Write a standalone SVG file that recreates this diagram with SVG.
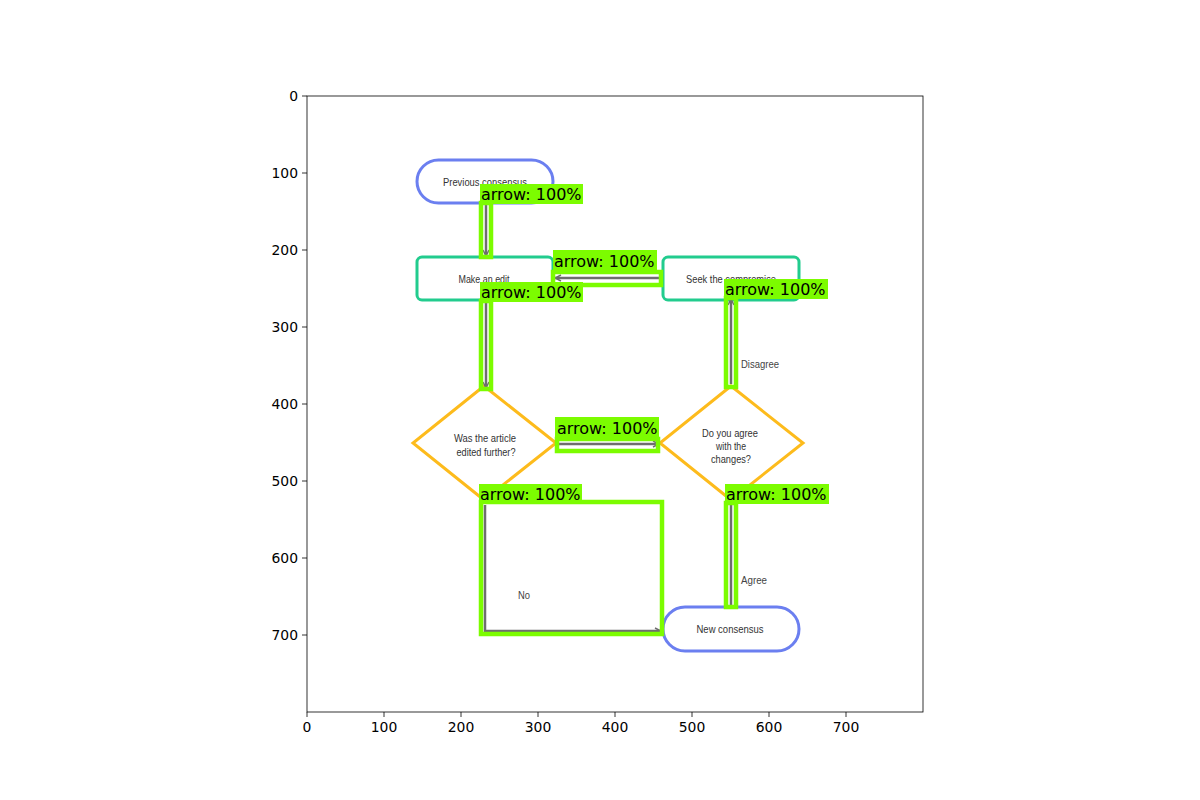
<svg xmlns="http://www.w3.org/2000/svg" width="1200" height="800" viewBox="0 0 1200 800">
<defs>
<style>
.tick{stroke:#000;stroke-width:0.8}
.tl{font-family:"DejaVu Sans",sans-serif;font-size:13.9px;fill:#000}
.pill{fill:#fff;stroke:#6b7ff0;stroke-width:3}
.rbox{fill:#fff;stroke:#22cc8e;stroke-width:3}
.dia{fill:#fff;stroke:#fdbb1c;stroke-width:3}
.nt{font-family:"Liberation Sans",Arial,sans-serif;font-size:11.5px;fill:#333;text-anchor:middle}
.et{font-family:"Liberation Sans",Arial,sans-serif;font-size:11.5px;fill:#444}
.con{fill:none;stroke:#6e6e6e;stroke-width:2.5}
.det{fill:none;stroke:#7cfc00;stroke-width:4.5}
.lb{fill:#7cfc00}
.lt{font-family:"DejaVu Sans",sans-serif;font-size:16px;fill:#000}
</style>
<marker id="ah" viewBox="0 0 10 10" refX="9" refY="5" markerWidth="3" markerHeight="3" orient="auto">
<path d="M1,1 L9,5 L1,9" fill="none" stroke="#6e6e6e" stroke-width="2"/>
</marker>
</defs>
<rect width="1200" height="800" fill="#fff"/>
<rect x="307" y="96" width="616" height="616" fill="#fff"/>

<g id="previous-consensus">
<rect class="pill" x="417" y="160" width="136" height="43" rx="21.5"/>
<text class="nt" x="485" y="186" textLength="84" lengthAdjust="spacingAndGlyphs">Previous consensus</text>
</g>
<g id="make-an-edit">
<rect class="rbox" x="417" y="257" width="136" height="43" rx="5"/>
<text class="nt" x="484" y="283" textLength="51" lengthAdjust="spacingAndGlyphs">Make an edit</text>
</g>
<g id="seek-compromise">
<rect class="rbox" x="663" y="257" width="136" height="43" rx="5"/>
<text class="nt" x="731" y="283" textLength="90" lengthAdjust="spacingAndGlyphs">Seek the compromise</text>
</g>
<g id="was-edited">
<polygon class="dia" points="484,386 556,443 484,500 413,443"/>
<text class="nt" x="485" y="442" textLength="62" lengthAdjust="spacingAndGlyphs">Was the article</text>
<text class="nt" x="486" y="456" textLength="59" lengthAdjust="spacingAndGlyphs">edited further?</text>
</g>
<g id="do-you-agree">
<polygon class="dia" points="731,386 803,443 731,500 660,443"/>
<text class="nt" x="730" y="437" textLength="56" lengthAdjust="spacingAndGlyphs">Do you agree</text>
<text class="nt" x="731" y="450" textLength="30" lengthAdjust="spacingAndGlyphs">with the</text>
<text class="nt" x="731" y="463" textLength="40" lengthAdjust="spacingAndGlyphs">changes?</text>
</g>
<g id="new-consensus">
<rect class="pill" x="663" y="607" width="136" height="44" rx="22"/>
<text class="nt" x="730" y="633" textLength="67" lengthAdjust="spacingAndGlyphs">New consensus</text>
</g>

<g id="connectors">
<line class="con" x1="486" y1="204" x2="486" y2="256" marker-end="url(#ah)"/>
<line class="con" x1="660" y1="278" x2="555" y2="278" marker-end="url(#ah)"/>
<line class="con" x1="486" y1="301" x2="486" y2="388" marker-end="url(#ah)"/>
<line class="con" x1="731" y1="384" x2="731" y2="299" marker-end="url(#ah)"/>
<line class="con" x1="559" y1="444" x2="659" y2="444" marker-end="url(#ah)"/>
<polyline class="con" points="485,505 485,631 661,631" marker-end="url(#ah)"/>
<line class="con" x1="731" y1="505" x2="731" y2="606"/>
<text class="et" x="741" y="368" textLength="38" lengthAdjust="spacingAndGlyphs">Disagree</text>
<text class="et" x="518" y="599" textLength="12" lengthAdjust="spacingAndGlyphs">No</text>
<text class="et" x="741" y="584" textLength="26" lengthAdjust="spacingAndGlyphs">Agree</text>
</g>

<g id="detections">
<rect class="det" x="481" y="203" width="10" height="54"/>
<rect class="lb" x="480" y="184" width="103" height="20"/>
<text class="lt" x="481" y="200">arrow: 100%</text>

<rect class="det" x="553" y="272" width="108" height="13"/>
<rect class="lb" x="553" y="250" width="104" height="21"/>
<text class="lt" x="554" y="267">arrow: 100%</text>

<rect class="det" x="481" y="301" width="10" height="88"/>
<rect class="lb" x="480" y="282" width="103" height="20"/>
<text class="lt" x="481" y="298">arrow: 100%</text>

<rect class="det" x="726" y="298" width="10" height="89"/>
<rect class="lb" x="724" y="279" width="104" height="20"/>
<text class="lt" x="725" y="295">arrow: 100%</text>

<rect class="det" x="557" y="439" width="101" height="12"/>
<rect class="lb" x="555" y="417" width="104" height="21"/>
<text class="lt" x="557" y="434">arrow: 100%</text>

<rect class="det" x="481" y="502" width="181" height="132"/>
<rect class="lb" x="479" y="484" width="103" height="20"/>
<text class="lt" x="480" y="500">arrow: 100%</text>

<rect class="det" x="726" y="503" width="10" height="104"/>
<rect class="lb" x="725" y="484" width="104" height="20"/>
<text class="lt" x="726" y="500">arrow: 100%</text>
</g>

<g id="axes">
<rect x="307" y="96" width="616" height="616" fill="none" stroke="#000" stroke-width="0.8"/>
<g class="tick">
<line x1="307" y1="712" x2="307" y2="717"/>
<line x1="384" y1="712" x2="384" y2="717"/>
<line x1="461" y1="712" x2="461" y2="717"/>
<line x1="538" y1="712" x2="538" y2="717"/>
<line x1="615" y1="712" x2="615" y2="717"/>
<line x1="692" y1="712" x2="692" y2="717"/>
<line x1="769" y1="712" x2="769" y2="717"/>
<line x1="846" y1="712" x2="846" y2="717"/>
<line x1="302" y1="96" x2="307" y2="96"/>
<line x1="302" y1="173" x2="307" y2="173"/>
<line x1="302" y1="250" x2="307" y2="250"/>
<line x1="302" y1="327" x2="307" y2="327"/>
<line x1="302" y1="404" x2="307" y2="404"/>
<line x1="302" y1="481" x2="307" y2="481"/>
<line x1="302" y1="558" x2="307" y2="558"/>
<line x1="302" y1="635" x2="307" y2="635"/>
</g>
<g class="tl" text-anchor="middle">
<text x="307" y="732">0</text>
<text x="384" y="732">100</text>
<text x="461" y="732">200</text>
<text x="538" y="732">300</text>
<text x="615" y="732">400</text>
<text x="692" y="732">500</text>
<text x="769" y="732">600</text>
<text x="846" y="732">700</text>
</g>
<g class="tl" text-anchor="end">
<text x="298" y="101">0</text>
<text x="298" y="178">100</text>
<text x="298" y="255">200</text>
<text x="298" y="332">300</text>
<text x="298" y="409">400</text>
<text x="298" y="486">500</text>
<text x="298" y="563">600</text>
<text x="298" y="640">700</text>
</g>
</g>
</svg>
